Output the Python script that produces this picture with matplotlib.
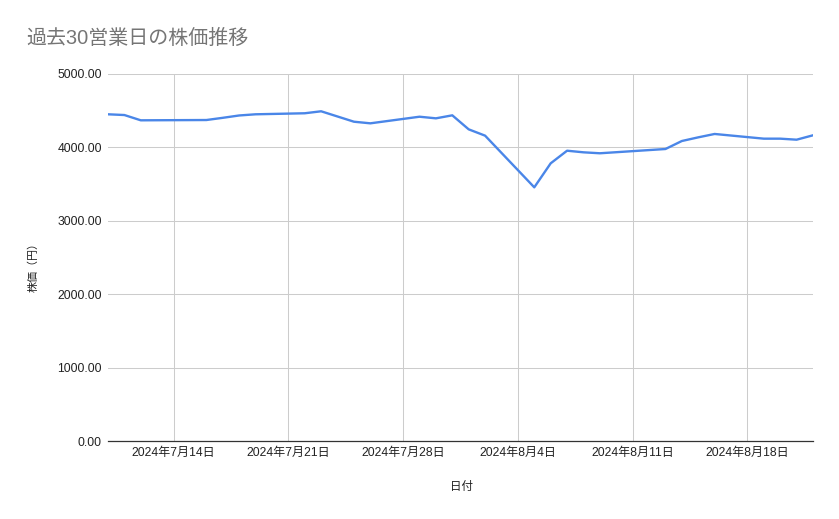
import numpy as np
import pandas as pd
import matplotlib
matplotlib.use("Agg")
import matplotlib.pyplot as plt
import matplotlib.dates as mdates
from matplotlib.ticker import FuncFormatter

plt.rcParams['font.family'] = ['Liberation Sans', 'Noto Sans CJK JP', 'DejaVu Sans']

# data
dates = pd.to_datetime([
    "2024-07-10", "2024-07-11", "2024-07-12", "2024-07-16", "2024-07-17",
    "2024-07-18", "2024-07-19", "2024-07-22", "2024-07-23", "2024-07-24",
    "2024-07-25", "2024-07-26", "2024-07-29", "2024-07-30", "2024-07-31",
    "2024-08-01", "2024-08-02", "2024-08-05", "2024-08-06", "2024-08-07",
    "2024-08-08", "2024-08-09", "2024-08-13", "2024-08-14", "2024-08-15",
    "2024-08-16", "2024-08-19", "2024-08-20", "2024-08-21", "2024-08-22",
])
prices = [
    4451, 4441, 4369, 4373, 4403,
    4435, 4451, 4465, 4492, 4421,
    4350, 4328, 4418, 4396, 4437,
    4246, 4160, 3456, 3783, 3955,
    3933, 3920, 3978, 4087, 4137,
    4183, 4119, 4119, 4105, 4165,
]
tick_dates = pd.to_datetime(["2024-07-14", "2024-07-21", "2024-07-28",
                             "2024-08-04", "2024-08-11", "2024-08-18"])
y_ticks = [0, 1000, 2000, 3000, 4000, 5000]

title = "過去30営業日の株価推移"
x_label = "日付"
y_label = "株価（円）"

W, H = 839, 519
fig = plt.figure(figsize=(W / 100, H / 100), dpi=100)
ax = fig.add_axes([108 / W, (H - 441) / H, 705 / W, 367 / H])

ax.plot(dates, prices, color='#4a86e8', lw=1.7, solid_joinstyle='round')

ax.set_xlim(pd.Timestamp("2024-07-10"), pd.Timestamp("2024-08-22"))
ax.set_ylim(0, 5000)
ax.set_yticks(y_ticks)
ax.yaxis.set_major_formatter(FuncFormatter(lambda v, p: f"{v:.2f}"))
ax.set_xticks(tick_dates)
ax.set_xticklabels([f"{d.year}年{d.month}月{d.day}日" for d in tick_dates])

ax.grid(True, color='#cccccc', lw=0.75)
ax.set_axisbelow(True)
for s in ['top', 'right', 'left']:
    ax.spines[s].set_visible(False)
ax.spines['bottom'].set_color('#333333')
ax.spines['bottom'].set_linewidth(0.9)
ax.spines['bottom'].set_zorder(3)
ax.tick_params(axis='both', length=0, labelsize=8.7, colors='#222222')
ax.tick_params(axis='y', pad=4.5)
ax.tick_params(axis='x', pad=4.5)

fig.text(26 / W, 1 - 29 / H, title, fontsize=14.4, color='#757575',
         ha='left', va='top')
fig.text(461.7 / W, 1 - 487 / H, x_label, fontsize=8.3, color='#222222',
         ha='center', va='center')
fig.text(33.3 / W, 1 - 265 / H, y_label, fontsize=7.9, color='#222222',
         ha='center', va='center', rotation=90)

fig.savefig("out.png", dpi=100)
